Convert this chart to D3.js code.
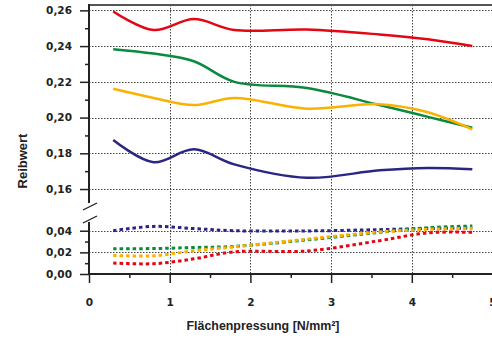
<!DOCTYPE html>
<html>
<head>
<meta charset="utf-8">
<script src="https://cdn.jsdelivr.net/npm/d3@7"></script>
<style>
  body { margin: 0; background: #fff; }
  svg { display: block; }
  .tick text { font-family: "DejaVu Sans", sans-serif; font-weight: bold; font-size: 10.5px; fill: #222; }
</style>
</head>
<body>
<script>
// pressure values (N/mm²) where the curves are sampled
const pressure = [0.3, 0.8, 1.3, 1.8, 2.7, 3.6, 4.2, 4.75];

// solid curves (upper panel)
const redSolid    = [0.2594, 0.2490, 0.2551, 0.2490, 0.2493, 0.2465, 0.2438, 0.2400];
const greenSolid  = [0.2383, 0.2358, 0.2315, 0.2200, 0.2165, 0.2070, 0.2004, 0.1943];
const orangeSolid = [0.2161, 0.2110, 0.2070, 0.2110, 0.2050, 0.2075, 0.2030, 0.1934];
const navySolid   = [0.1874, 0.1750, 0.1822, 0.1738, 0.1663, 0.1705, 0.1718, 0.1711];

// dotted curves (lower panel)
const navyDot   = [0.0400, 0.0440, 0.0420, 0.0400, 0.0398, 0.0410, 0.0420, 0.0425];
const greenDot  = [0.0234, 0.0235, 0.0245, 0.0255, 0.0315, 0.0385, 0.0428, 0.0443];
const orangeDot = [0.0172, 0.0168, 0.0215, 0.0250, 0.0322, 0.0388, 0.0413, 0.0422];
const redDot    = [0.0102, 0.0095, 0.0140, 0.0205, 0.0213, 0.0308, 0.0381, 0.0385];

const upperTicks = [0.16, 0.18, 0.20, 0.22, 0.24, 0.26];
const upperMinor = [0.17, 0.19, 0.21, 0.23, 0.25];
const lowerTicks = [0.00, 0.02, 0.04];
const lowerMinor = [0.01, 0.03];
const xTicks = [0, 1, 2, 3, 4, 5];
const xMinor = [0.5, 1.5, 2.5, 3.5, 4.5];

const colors = { red: "#e30613", green: "#0a8a3e", orange: "#fbb100", navy: "#2b2683" };

const W = 492, H = 342;
const mLeft = 89, mTop = 5, mBottom = 274;

const svg = d3.select("body").append("svg").attr("width", W).attr("height", H);

const x = d3.scaleLinear().domain([0, 5]).range([mLeft, 492.5]);
const yUp = d3.scaleLinear().domain([0.15, 0.263]).range([206.9, mTop]);
const yLow = d3.scaleLinear().domain([0, 0.05]).range([mBottom, 219.9]);

const fmt = d => d3.format(".2f")(d).replace(".", ",");

// grid
const grid = svg.append("g").attr("stroke", "#444").attr("stroke-width", 1).attr("stroke-dasharray", "1.5,1.5");
upperTicks.forEach(v => grid.append("line").attr("x1", mLeft).attr("x2", W).attr("y1", Math.round(yUp(v)) + 0.5).attr("y2", Math.round(yUp(v)) + 0.5));
[0.02, 0.04].forEach(v => grid.append("line").attr("x1", mLeft).attr("x2", W).attr("y1", Math.round(yLow(v)) + 0.5).attr("y2", Math.round(yLow(v)) + 0.5));
[1, 2, 3, 4].forEach(v => grid.append("line").attr("x1", Math.round(x(v)) + 0.5).attr("x2", Math.round(x(v)) + 0.5).attr("y1", mTop).attr("y2", mBottom));

// top frame
svg.append("line").attr("x1", mLeft).attr("x2", W).attr("y1", mTop).attr("y2", mTop)
  .attr("stroke", "#555").attr("stroke-width", 2);

// curves
const line = (ys, yScale) => d3.line()
  .x((d, i) => x(pressure[i]))
  .y(d => yScale(d))
  .curve(d3.curveCatmullRom.alpha(0.5))(ys);

[[redSolid, colors.red], [greenSolid, colors.green], [orangeSolid, colors.orange], [navySolid, colors.navy]]
  .forEach(([ys, c]) => svg.append("path").attr("d", line(ys, yUp))
    .attr("fill", "none").attr("stroke", c).attr("stroke-width", 2.5));

[[navyDot, colors.navy], [greenDot, colors.green], [orangeDot, colors.orange], [redDot, colors.red]]
  .forEach(([ys, c]) => svg.append("path").attr("d", line(ys, yLow))
    .attr("fill", "none").attr("stroke", c).attr("stroke-width", 3).attr("stroke-dasharray", "3.5,3"));

// y axes
const styleAxis = g => {
  g.select(".domain").remove();
  g.selectAll(".tick line").attr("stroke", "#222").attr("stroke-width", 1.5);
};

svg.append("g").attr("transform", `translate(${mLeft},0)`)
  .call(d3.axisLeft(yUp).tickValues(upperTicks).tickSize(9).tickPadding(8).tickFormat(fmt))
  .call(styleAxis);
svg.append("g").attr("transform", `translate(${mLeft},0)`)
  .call(d3.axisLeft(yUp).tickValues(upperMinor).tickSize(4).tickFormat(""))
  .call(styleAxis);
svg.append("g").attr("transform", `translate(${mLeft},0)`)
  .call(d3.axisLeft(yLow).tickValues(lowerTicks).tickSize(9).tickPadding(8).tickFormat(fmt))
  .call(styleAxis);
svg.append("g").attr("transform", `translate(${mLeft},0)`)
  .call(d3.axisLeft(yLow).tickValues(lowerMinor).tickSize(4).tickFormat(""))
  .call(styleAxis);

// x axis
svg.append("g").attr("transform", `translate(0,${mBottom})`)
  .call(d3.axisBottom(x).tickValues(xTicks).tickSize(9).tickPadding(16).tickFormat(d3.format("d")))
  .call(styleAxis);
svg.append("g").attr("transform", `translate(0,${mBottom})`)
  .call(d3.axisBottom(x).tickValues(xMinor).tickSize(4).tickFormat(""))
  .call(styleAxis);

// axis lines
const ax = svg.append("g").attr("stroke", "#222").attr("stroke-width", 2).attr("fill", "none");
ax.append("line").attr("x1", mLeft).attr("x2", mLeft).attr("y1", mTop - 1).attr("y2", 203);
ax.append("line").attr("x1", mLeft).attr("x2", mLeft).attr("y1", 222).attr("y2", mBottom);
ax.append("line").attr("x1", mLeft).attr("x2", W).attr("y1", mBottom).attr("y2", mBottom);
// break marks
ax.append("line").attr("x1", 83).attr("x2", 97).attr("y1", 210).attr("y2", 203).attr("stroke-width", 1.3);
ax.append("line").attr("x1", 83).attr("x2", 97).attr("y1", 223).attr("y2", 216).attr("stroke-width", 1.3);

// titles
svg.append("text")
  .attr("x", 263).attr("y", 330)
  .attr("text-anchor", "middle")
  .attr("font-family", "Liberation Sans, Arial, sans-serif")
  .attr("font-weight", "bold").attr("font-size", 13)
  .attr("textLength", 153).attr("lengthAdjust", "spacingAndGlyphs")
  .attr("fill", "#222")
  .text("Flächenpressung [N/mm²]");

svg.append("text")
  .attr("transform", "translate(27,161) rotate(-90)")
  .attr("text-anchor", "middle")
  .attr("font-family", "Liberation Sans, Arial, sans-serif")
  .attr("font-weight", "bold").attr("font-size", 13)
  .attr("fill", "#222")
  .text("Reibwert");
</script>
</body>
</html>
